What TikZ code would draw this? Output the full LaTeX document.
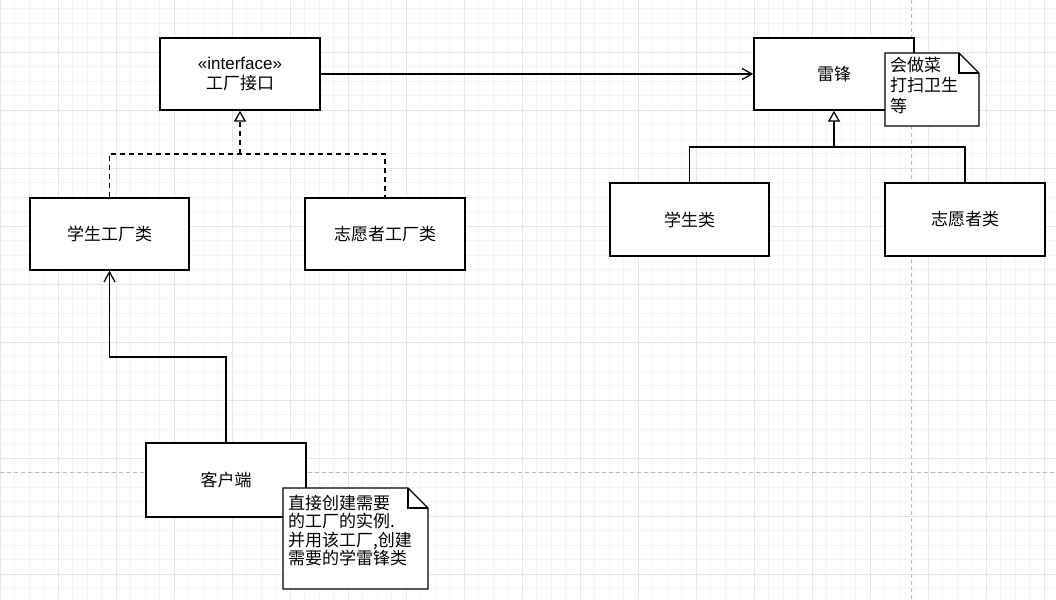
\documentclass[tikz,border=0pt]{standalone}
\usepackage{fontspec}
\setmainfont{Liberation Sans}
\newfontfamily\cjk{Noto Sans CJK SC}
\usetikzlibrary{arrows.meta,calc}
\tikzset{
  lei/.style={draw,line width=1.3pt,fill=white,minimum width=160pt,minimum height=72pt,
              inner sep=2pt,align=center,font=\cjk\fontsize{17}{19.5}\selectfont},
  zhushi/.style={draw,line width=1.3pt,fill=white,line join=miter},
  zhushiwen/.style={anchor=north west,inner sep=0pt,align=left,
                    font=\cjk\fontsize{17}{20.5}\selectfont},
  yilai/.style={line width=1.3pt,-{Straight Barb[length=10pt,width=11pt]}},
  jicheng/.style={line width=1.3pt,-{Triangle[fill=white,length=11pt,width=12pt]}},
  shixian/.style={jicheng,dash pattern=on 5pt off 4pt},
  xuxian/.style={line width=1.3pt,dash pattern=on 5pt off 4pt},
  xiwang/.style={gray!9,line width=0.8pt},
  cuwang/.style={gray!20,line width=0.8pt},
  fenye/.style={gray!55,line width=0.8pt,dash pattern=on 4pt off 3pt},
}

\begin{document}
\begin{tikzpicture}[x=1pt,y=-1pt]
  \useasboundingbox (0,0) rectangle (1056,599);
  % grid
  \foreach \x in {0,14.5,...,1056} \draw[xiwang] (\x,0) -- (\x,599);
  \foreach \y in {8.5,23,...,599} \draw[xiwang] (0,\y) -- (1056,\y);
  \foreach \x in {0,58,...,1056} \draw[cuwang] (\x,0) -- (\x,599);
  \foreach \y in {52,110,...,599} \draw[cuwang] (0,\y) -- (1056,\y);
  \draw[fenye] (911,0) -- (911,599);
  \draw[fenye] (0,472) -- (1056,472);

  % classes
  \node[lei] (jiekou) at (240,74) {{\rmfamily «interface»}\\工厂接口};
  \node[lei] (leifeng) at (834,74) {雷锋};
  \node[lei,minimum width=159pt,minimum height=73pt] (xuesheng) at (689.5,219.5) {学生类};
  \node[lei,minimum height=73pt] (zhiyuan) at (965,219.5) {志愿者类};
  \node[lei,minimum width=159pt] (xsgc) at (109.5,234) {学生工厂类};
  \node[lei] (zygc) at (385,234) {志愿者工厂类};
  \node[lei,minimum height=74pt] (kehu) at (226,480) {客户端};

  % connectors
  \coordinate (gcfen) at (240,154);
  \coordinate (leifen) at (834,147);
  \coordinate (kehuzhuan) at (226,357);
  \draw[yilai] (jiekou.east) -- (leifeng.west);
  \draw[xuxian] (xsgc.north) |- (gcfen) -| (zygc.north);
  \draw[shixian] (gcfen) -- (jiekou.south);
  \draw[line width=1.3pt] (xuesheng.north) |- (leifen) -| (zhiyuan.north);
  \draw[jicheng] (leifen) -- (leifeng.south);
  \draw[yilai] (kehu.north) -- (kehuzhuan) -| (xsgc.south);

  % notes
  \coordinate (zs1) at (885,53);
  \draw[zhushi] (zs1) -- ++(74,0) -- ++(20,20) -- ++(0,53) -- ++(-94,0) -- cycle;
  \draw[line width=1.3pt] ($(zs1)+(74,0)$) -- ++(0,20) -- ++(20,0);
  \node[zhushiwen] (zs1wen) at ($(zs1)+(5,4)$) {会做菜\\打扫卫生\\等};

  \coordinate (zs2) at (283,488);
  \draw[zhushi] (zs2) -- ++(125,0) -- ++(20,20) -- ++(0,81) -- ++(-145,0) -- cycle;
  \draw[line width=1.3pt] ($(zs2)+(125,0)$) -- ++(0,20) -- ++(20,0);
  \node[zhushiwen,font=\cjk\fontsize{17}{18.6}\selectfont] (zs2wen) at ($(zs2)+(5,6.5)$)
    {直接创建需要\\的工厂的实例.\\并用该工厂,创建\\需要的学雷锋类};
\end{tikzpicture}
\end{document}
